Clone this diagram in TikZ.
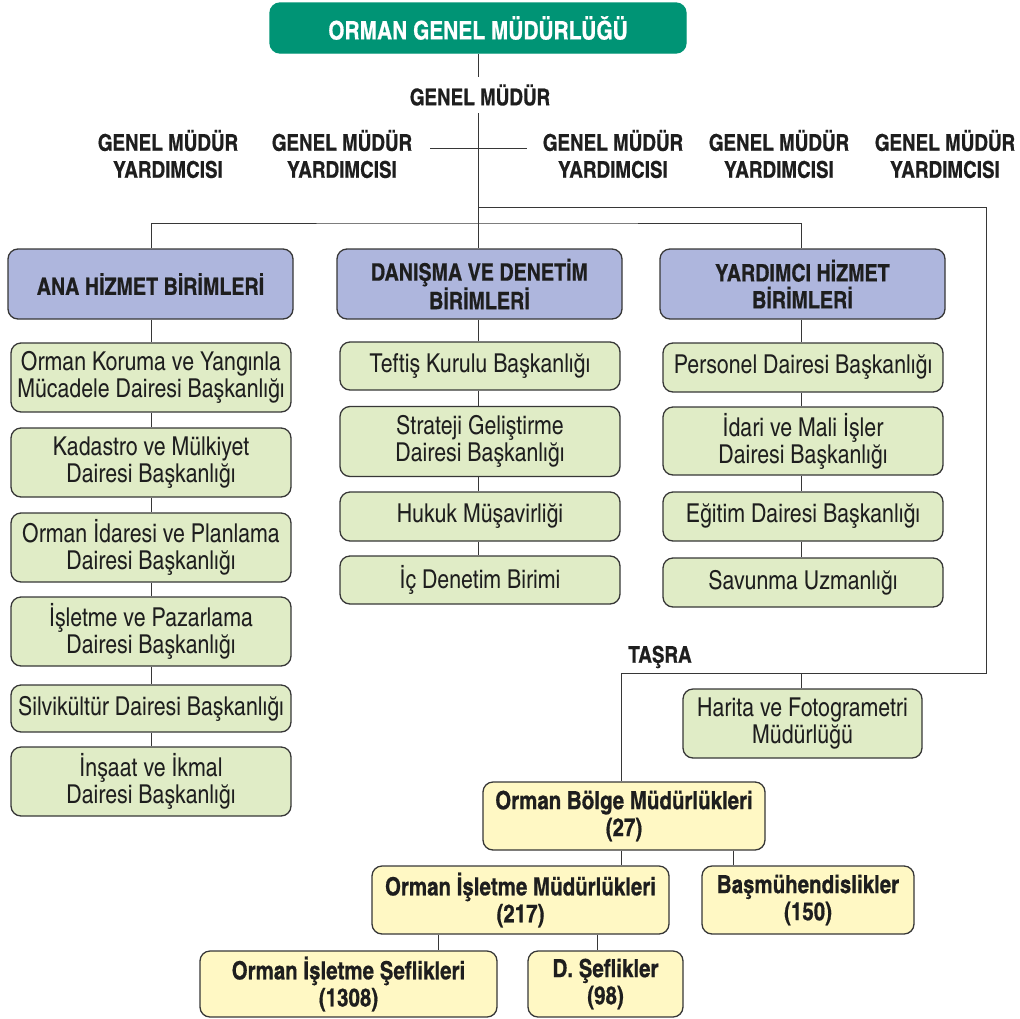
\documentclass[tikz,border=0pt]{standalone}
\usepackage{fontspec}
\setmainfont{TeX Gyre Heros Cn}[BoldFeatures={FakeBold=0.6}]
\definecolor{ogmgreen}{RGB}{0,148,117}
\definecolor{hdrblue}{RGB}{174,182,221}
\definecolor{boxgreen}{RGB}{224,236,198}
\definecolor{boxyellow}{RGB}{255,248,196}
\definecolor{lnk}{RGB}{55,55,55}
\definecolor{txt}{RGB}{30,30,30}
\begin{document}
\begin{tikzpicture}[x=1pt,y=-1pt,
  box/.style={draw=lnk, line width=1.3pt, rounded corners=10pt, align=center, inner sep=0pt, text=txt},
  topbox/.style={box, draw=ogmgreen, fill=ogmgreen, text=white, font=\bfseries\fontsize{25.5}{28}\selectfont, minimum width=416pt, minimum height=50pt},
  hdrbox/.style={box, fill=hdrblue, font=\bfseries\fontsize{24}{27}\selectfont, minimum width=285pt, minimum height=70pt},
  unitbox/.style={box, fill=boxgreen, font=\fontsize{26}{27}\selectfont, minimum width=280pt},
  taskbox/.style={box, fill=boxyellow, font=\bfseries\fontsize{25}{27}\selectfont, minimum height=67pt},
  label/.style={align=center, inner sep=0pt, text=txt, font=\bfseries\fontsize{23}{27}\selectfont},
  link/.style={draw=lnk, line width=1pt}
]
\useasboundingbox (0,0) rectangle (1020,1018);

% top
\node[topbox] (ogm) at (478,28) {ORMAN GENEL MÜDÜRLÜĞÜ};
\node[label, minimum height=36pt] (gm) at (480,95) {GENEL MÜDÜR};
\node[label] (y1) at (168,154) {GENEL MÜDÜR\\YARDIMCISI};
\node[label] (y2) at (342,154) {GENEL MÜDÜR\\YARDIMCISI};
\node[label] (y3) at (613,154) {GENEL MÜDÜR\\YARDIMCISI};
\node[label] (y4) at (779,154) {GENEL MÜDÜR\\YARDIMCISI};
\node[label] (y5) at (945,154) {GENEL MÜDÜR\\YARDIMCISI};

% headers
\node[hdrbox] (ana) at (150.5,284) {ANA HİZMET BİRİMLERİ};
\node[hdrbox] (dan) at (479.5,284) {DANIŞMA VE DENETİM\\BİRİMLERİ};
\node[hdrbox] (yar) at (802.5,284) {YARDIMCI HİZMET\\BİRİMLERİ};

% left column
\node[unitbox, minimum height=69pt] (l1) at (151,377.5) {Orman Koruma ve Yangınla\\Mücadele Dairesi Başkanlığı};
\node[unitbox, minimum height=69pt] (l2) at (151,462.5) {Kadastro ve Mülkiyet\\Dairesi Başkanlığı};
\node[unitbox, minimum height=69pt] (l3) at (151,547.5) {Orman İdaresi ve Planlama\\Dairesi Başkanlığı};
\node[unitbox, minimum height=69pt] (l4) at (151,631.5) {İşletme ve Pazarlama\\Dairesi Başkanlığı};
\node[unitbox, minimum height=47pt] (l5) at (151,708.5) {Silvikültür Dairesi Başkanlığı};
\node[unitbox, minimum height=69pt] (l6) at (151,781.5) {İnşaat ve İkmal\\Dairesi Başkanlığı};

% middle column
\node[unitbox, minimum height=48pt] (m1) at (480,366) {Teftiş Kurulu Başkanlığı};
\node[unitbox, minimum height=70pt] (m2) at (480,441.5) {Strateji Geliştirme\\Dairesi Başkanlığı};
\node[unitbox, minimum height=49pt] (m3) at (480,516.5) {Hukuk Müşavirliği};
\node[unitbox, minimum height=48pt] (m4) at (480,580) {İç Denetim Birimi};

% right column
\node[unitbox, minimum height=49pt] (r1) at (803,367.5) {Personel Dairesi Başkanlığı};
\node[unitbox, minimum height=68pt] (r2) at (803,441) {İdari ve Mali İşler\\Dairesi Başkanlığı};
\node[unitbox, minimum height=49pt] (r3) at (803,516.5) {Eğitim Dairesi Başkanlığı};
\node[unitbox, minimum height=49pt] (r4) at (803,582.5) {Savunma Uzmanlığı};

% taşra
\node[label] (tasra) at (660,657) {TAŞRA};
\node[unitbox, minimum width=239pt, minimum height=69pt] (har) at (802.5,723.5) {Harita ve Fotogrametri\\Müdürlüğü};
\node[taskbox, minimum width=282pt, minimum height=68pt] (bolge) at (624,816) {Orman Bölge Müdürlükleri\\(27)};
\node[taskbox, minimum width=297pt, minimum height=68pt] (oim) at (520.5,900) {Orman İşletme Müdürlükleri\\(217)};
\node[taskbox, minimum width=212pt, minimum height=68pt] (bas) at (808,900) {Başmühendislikler\\(150)};
\node[taskbox, minimum width=297pt, minimum height=66pt] (ois) at (348.5,984) {Orman İşletme Şeflikleri\\(1308)};
\node[taskbox, minimum width=155pt, minimum height=66pt] (dsef) at (605.5,984) {D. Şeflikler\\(98)};

% coordinates
\coordinate (cl) at (151,0);
\coordinate (cm) at (478,0);
\coordinate (cr) at (801,0);
\coordinate (hl) at (430,148);
\coordinate (hr) at (527,148);
\coordinate (j1) at (478,207);
\coordinate (rc) at (986,207);
\coordinate (hb) at (478,223);
\coordinate (tc) at (621,673);
\coordinate (bx) at (733,0);
\coordinate (sx) at (438,0);
\coordinate (dx) at (597,0);

% connectors
\draw[link] (cm |- ogm.south) -- (cm |- gm.north);
\draw[link] (cm |- gm.south) -- (cm |- dan.north);
\draw[link] (hl) -- (hr);
\draw[link] (cl |- ana.north) |- (hb) -| (cr |- yar.north);
\draw[link] (j1) -- (rc) |- (tc) -- (tc |- bolge.north);
\draw[link] (cr |- har.north) -- (cr |- tc);
\foreach \a/\b in {ana/l1,l1/l2,l2/l3,l3/l4,l4/l5,l5/l6}
  \draw[link] (cl |- \a.south) -- (cl |- \b.north);
\foreach \a/\b in {dan/m1,m1/m2,m2/m3,m3/m4}
  \draw[link] (cm |- \a.south) -- (cm |- \b.north);
\foreach \a/\b in {yar/r1,r1/r2,r2/r3,r3/r4}
  \draw[link] (cr |- \a.south) -- (cr |- \b.north);
\draw[link] (tc |- bolge.south) -- (tc |- oim.north);
\draw[link] (bx |- bolge.south) -- (bx |- bas.north);
\draw[link] (sx |- oim.south) -- (sx |- ois.north);
\draw[link] (dx |- oim.south) -- (dx |- dsef.north);
\end{tikzpicture}
\end{document}
